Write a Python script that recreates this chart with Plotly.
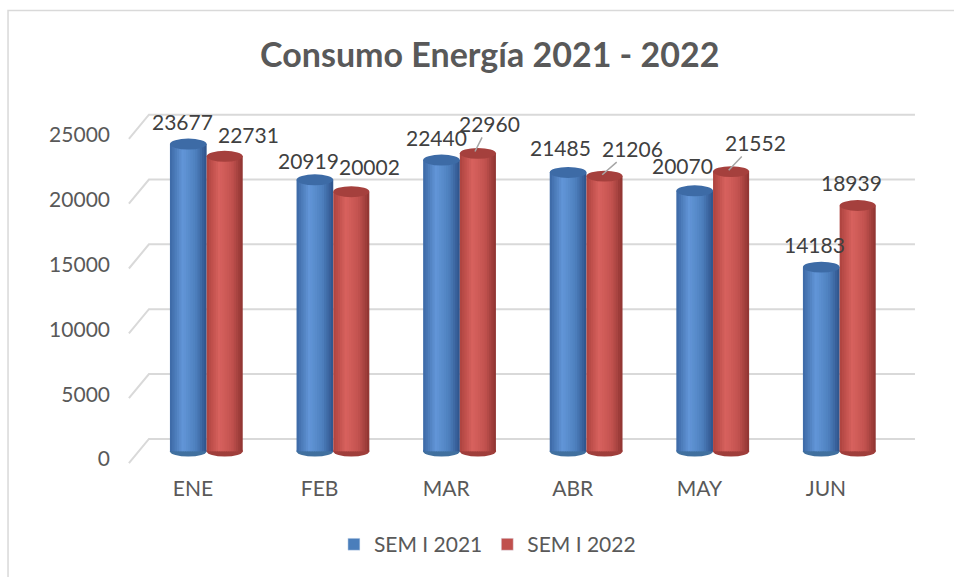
import plotly.graph_objects as go

# ---------------- data ----------------
months = ["ENE", "FEB", "MAR", "ABR", "MAY", "JUN"]
sem2021 = [23677, 20919, 22440, 21485, 20070, 14183]
sem2022 = [22731, 20002, 22960, 21206, 21552, 18939]
series_names = ["SEM I 2021", "SEM I 2022"]
y_ticks = [0, 5000, 10000, 15000, 20000, 25000]
y_tick_text = ["0", "5000", "10000", "15000", "20000", "25000"]
title_text = "Consumo Energía 2021 - 2022"

# ---------------- style ----------------
FONT = "Lato, 'Open Sans', sans-serif"
TXT = "#595959"
LBL = "#404040"
GRID = "#D9D9D9"

# per-series geometry (category units) and shading
bar_offset = [-0.182, 0.108]
bar_width = [0.29, 0.285]
base_color = ["#4A7EBB", "#C0504D"]
shade_stops = [
    [(0.0, (60, 104, 164)), (0.35, (98, 150, 216)), (0.7, (78, 128, 190)), (1.0, (46, 82, 138))],
    [(0.0, (172, 66, 62)), (0.35, (216, 98, 94)), (0.7, (194, 82, 79)), (1.0, (142, 52, 49))],
]
cap_color = ["#3D6BA6", "#A5403D"]
bottom_color = ["#41709F", "#9F3E3B"]

# label offsets in px (dx right, dy up) and leader flags
lbl_dx = [[-6, -6, -5, -8, -12, -7], [24, 18, 15, 32, 28, -6]]
lbl_dy = [[23, 19, 23, 25, 25, 23], [22, 25, 30, 28, 29, 23]]
leader = [[0, 0, 0, 0, 0, 0], [0, 0, 1, 1, 1, 0]]

CAP_H = 420          # half height of the elliptical cap, in value units
GRID_LIFT = 943      # back-wall lift of grid lines (value units)
GRID_DROP = 920      # floor-edge drop of the slanted part
X_SLANT0, X_CORNER, X_END = -0.506, -0.348, 5.703

values = [sem2021, sem2022]


def interp(stops, u):
    for (u0, c0), (u1, c1) in zip(stops[:-1], stops[1:]):
        if u0 <= u <= u1:
            t = (u - u0) / (u1 - u0) if u1 > u0 else 0
            c = [round(a + (b - a) * t) for a, b in zip(c0, c1)]
            return "rgb(%d,%d,%d)" % tuple(c)
    c = stops[-1][1]
    return "rgb(%d,%d,%d)" % c


fig = go.Figure()
N = 16
shapes = []

# grid lines (3D back wall look)
for t in y_ticks:
    shapes.append(dict(type="path", xref="x", yref="y", layer="below",
                       path=f"M {X_SLANT0},{t - GRID_DROP} L {X_CORNER},{t + GRID_LIFT} L {X_END},{t + GRID_LIFT}",
                       line=dict(color=GRID, width=2)))

for s in range(2):
    off, w = bar_offset[s], bar_width[s]
    # bottom rounded edge
    for i, v in enumerate(values[s]):
        shapes.append(dict(type="circle", xref="x", yref="y", layer="below",
                           x0=i + off, x1=i + off + w, y0=-CAP_H, y1=CAP_H,
                           fillcolor=bottom_color[s], line=dict(width=0)))
    # shaded body slices
    for k in range(N):
        u = (k + 0.5) / N
        fig.add_trace(go.Bar(
            x=months, y=values[s], offset=off + k * w / N,
            width=(w / N) * (1.6 if k < N - 1 else 1.0),
            marker=dict(color=interp(shade_stops[s], u), line=dict(width=0)),
            showlegend=False, hoverinfo="skip"))
    # top caps
    for i, v in enumerate(values[s]):
        shapes.append(dict(type="circle", xref="x", yref="y", layer="above",
                           x0=i + off, x1=i + off + w, y0=v - CAP_H, y1=v + CAP_H,
                           fillcolor=cap_color[s], line=dict(width=0)))
    # legend entry
    fig.add_trace(go.Bar(x=months, y=[None] * len(months), name=series_names[s],
                         marker=dict(color=base_color[s]), showlegend=True))

# data labels
annotations = []
for s in range(2):
    c = bar_offset[s] + bar_width[s] / 2
    for i, v in enumerate(values[s]):
        if leader[s][i]:
            annotations.append(dict(x=i + c - 0.03, y=v, xref="x", yref="y", text=str(v),
                                    showarrow=True, arrowhead=0, arrowwidth=1.5,
                                    arrowcolor="#A6A6A6", standoff=2,
                                    ax=lbl_dx[s][i], ay=-lbl_dy[s][i],
                                    font=dict(family=FONT, size=21, color=LBL)))
        else:
            annotations.append(dict(x=i + c, y=v, xref="x", yref="y", text=str(v),
                                    showarrow=False, xshift=lbl_dx[s][i], yshift=lbl_dy[s][i],
                                    font=dict(family=FONT, size=21, color=LBL)))

# chart frame (partly outside the window like the reference)
shapes.append(dict(type="rect", xref="paper", yref="paper", x0=-0.1475, x1=1.2, y0=-0.6, y1=1.278,
                   line=dict(color="#D9D9D9", width=1.5), fillcolor="rgba(0,0,0,0)", layer="below"))

fig.update_layout(
    width=954, height=577,
    margin=dict(l=125, r=36, t=110, b=107),
    paper_bgcolor="white", plot_bgcolor="white",
    barmode="overlay",
    title=dict(text=title_text, x=0.46, xanchor="center", xref="paper", y=1 - 55 / 577, yanchor="middle",
               font=dict(family=FONT, size=34, color=TXT, weight="bold")),
    xaxis=dict(type="category", range=[-0.537, 5.727], showgrid=False, zeroline=False,
               showline=False, ticks="", tickfont=dict(family=FONT, size=21, color=TXT),
               ticklabelstandoff=6),
    yaxis=dict(range=[-1300, 26300], tickvals=y_ticks, ticktext=y_tick_text, showgrid=False,
               zeroline=False, showline=False, ticks="",
               tickfont=dict(family=FONT, size=21, color=TXT),
               ticklabelstandoff=14, ticklabelshift=8),
    legend=dict(orientation="h", x=0.457, xanchor="center", y=-0.214, yanchor="middle",
                font=dict(family=FONT, size=21, color=TXT), traceorder="normal"),
    shapes=shapes, annotations=annotations,
    showlegend=True,
)

fig.write_html("out.html", config={"displayModeBar": False},
               post_script="document.body.style.margin='0';document.body.style.padding='0';")
